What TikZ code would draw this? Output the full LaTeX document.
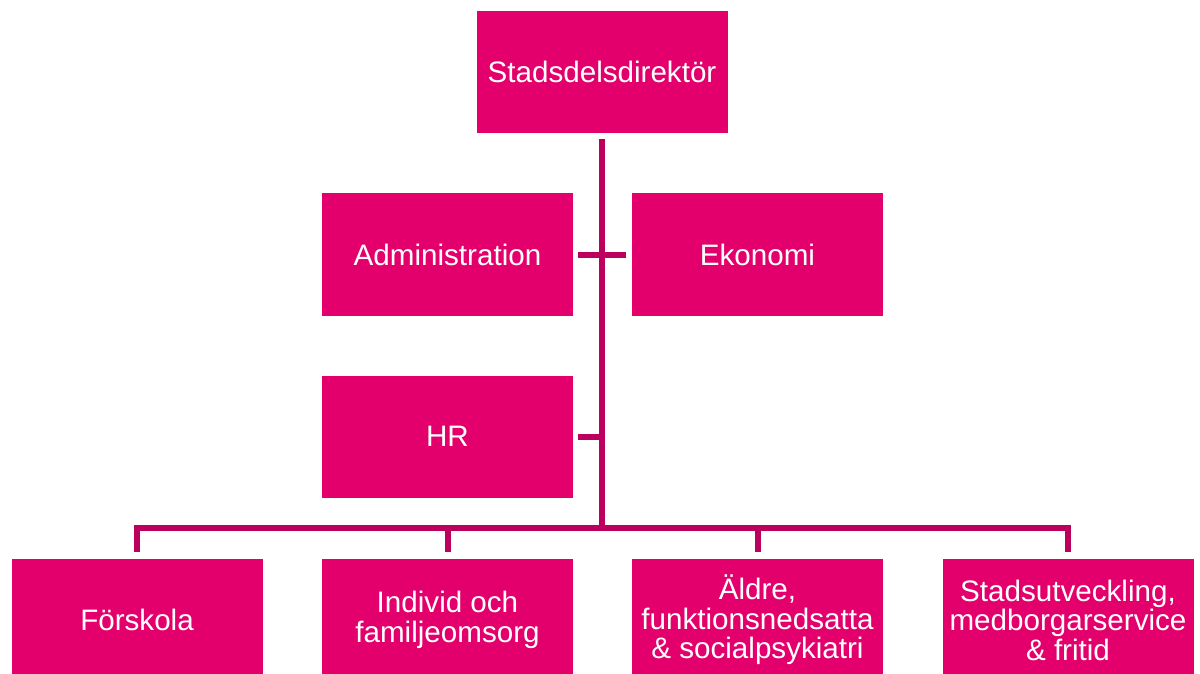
\documentclass[tikz,border=0pt]{standalone}
\usepackage{fontspec}
\setmainfont{Liberation Sans}
\definecolor{boxpink}{RGB}{228,0,108}
\definecolor{linepink}{RGB}{188,0,94}
\begin{document}
\begin{tikzpicture}[x=1pt,y=-1pt,
  orgbox/.style={fill=boxpink, text=white, minimum width=251pt, minimum height=122pt,
    inner sep=0pt, align=center, font=\fontsize{29.6}{29.5}\selectfont},
  conn/.style={draw=linepink, line width=6pt, line join=miter}]
\useasboundingbox (0,0) rectangle (1200,674);
\clip (0,0) rectangle (1200,674);
\fill[white] (0,0) rectangle (1200,674);
\node[orgbox] (top) at (602,72) {Stadsdelsdirektör};
\node[orgbox] (adm) at (447.5,254.5) {Administration};
\node[orgbox] (eko) at (757.5,254.5) {Ekonomi};
\node[orgbox] (hr) at (447.5,436.5) {HR};
\node[orgbox] (f) at (137,620) {Förskola};
\node[orgbox] (ind) at (447.5,620) {Individ och\\familjeomsorg};
\node[orgbox] (ald) at (757.5,620) {Äldre,\\funktionsnedsatta\\\& socialpsykiatri};
\node[orgbox] (sta) at (1068,620) {Stadsutveckling,\\medborgarservice\\\& fritid};
\coordinate (bus) at (602,528);
\draw[conn] ([yshift=-6pt]top.south) -- (bus);
\draw[conn] ([xshift=5pt]adm.east) -- ([xshift=-6pt]eko.west);
\draw[conn] ([xshift=5pt]hr.east) -- (hr.east -| bus);
\draw[conn] ([yshift=7pt]f.north) |- (bus) -| ([yshift=7pt]sta.north);
\draw[conn] ([yshift=7pt]ind.north) -- (ind.north |- bus);
\draw[conn] ([yshift=7pt]ald.north) -- (ald.north |- bus);
\end{tikzpicture}
\end{document}
